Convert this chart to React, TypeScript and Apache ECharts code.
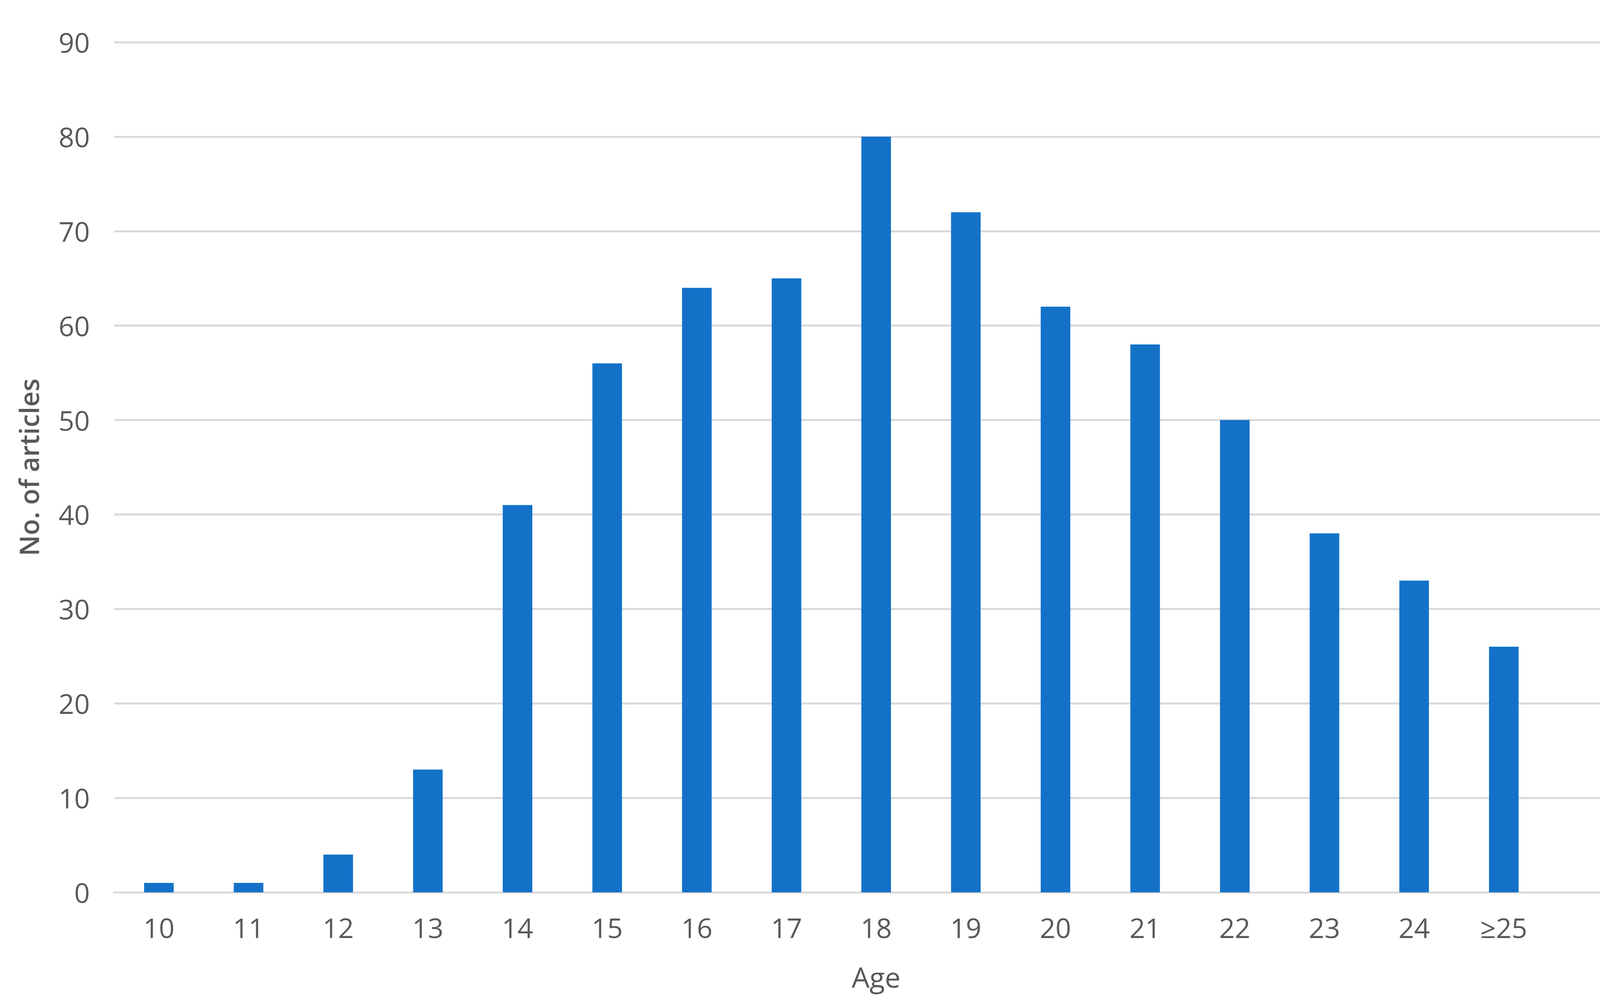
import React, { useEffect, useRef } from "react";
import * as echarts from "echarts";

const categories: string[] = ["10", "11", "12", "13", "14", "15", "16", "17", "18", "19", "20", "21", "22", "23", "24", "≥25", ""];
const articles: (number | null)[] = [1, 1, 4, 13, 41, 56, 64, 65, 80, 72, 62, 58, 50, 38, 33, 26, null];
const yTicks = { min: 0, max: 90, interval: 10 };

const TEXT = "#595959";
const FONT = "Open Sans";

export default function App() {
  const ref = useRef<HTMLDivElement>(null);
  useEffect(() => {
    document.body.style.margin = "0";
    const chart = echarts.init(ref.current!, null, { renderer: "svg" });
    chart.setOption({
      animation: false,
      backgroundColor: "#ffffff",
      grid: { left: 292, right: 81, top: 108, bottom: 291, containLabel: false },
      xAxis: {
        type: "category",
        data: categories,
        boundaryGap: true,
        axisLine: { show: true, lineStyle: { color: "#D9D9D9", width: 5 } },
        axisTick: { show: false },
        axisLabel: { color: TEXT, fontFamily: FONT, fontSize: 70, margin: 55, interval: 0 },
        name: "Age",
        nameLocation: "middle",
        nameGap: 180,
        nameTextStyle: { color: TEXT, fontFamily: FONT, fontSize: 72 },
      },
      yAxis: {
        type: "value",
        min: yTicks.min,
        max: yTicks.max,
        interval: yTicks.interval,
        axisLine: { show: false },
        axisTick: { show: false },
        splitLine: { show: true, lineStyle: { color: "#D9D9D9", width: 5 } },
        axisLabel: { color: TEXT, fontFamily: FONT, fontSize: 70, margin: 62 },
        name: "No. of articles",
        nameLocation: "middle",
        nameGap: 185,
        nameRotate: 90,
        nameTextStyle: { color: TEXT, fontFamily: FONT, fontSize: 68, fontWeight: 600 },
      },
      series: [
        {
          type: "bar",
          data: articles,
          barWidth: "33%",
          itemStyle: { color: "#1372C8" },
        },
      ],
    });
    return () => chart.dispose();
  }, []);
  return <div ref={ref} style={{ width: 4275, height: 2576 }} />;
}
